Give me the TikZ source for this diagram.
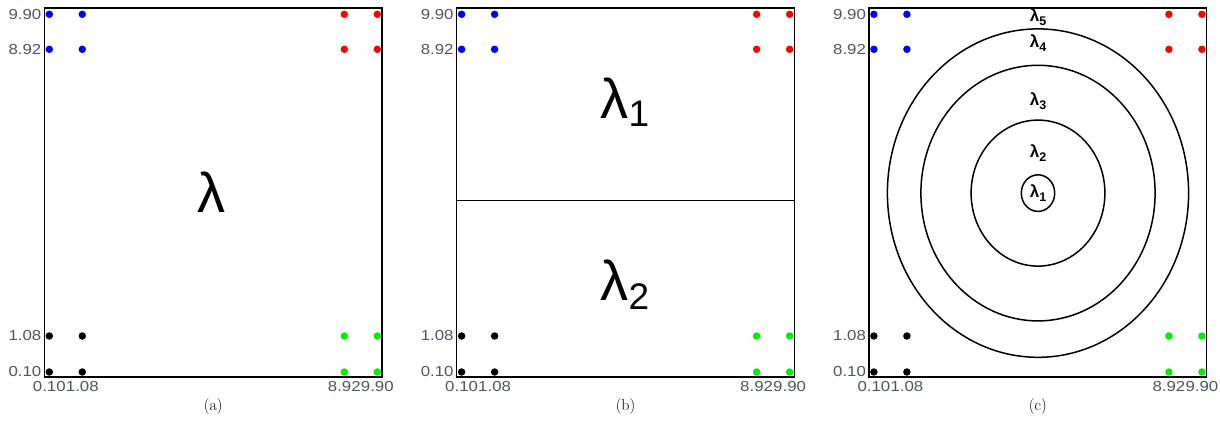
\documentclass[tikz,border=0pt]{standalone}
\usepackage{fontspec}
\newfontfamily\sansf{Liberation Sans}
\definecolor{tickgray}{RGB}{80,86,96}
\definecolor{dotblue}{RGB}{0,0,255}
\definecolor{dotred}{RGB}{255,0,0}
\definecolor{dotgreen}{RGB}{0,238,0}
\newcommand{\tk}[1]{\scalebox{1.16}[1]{#1}}
\tikzset{
  frame/.style={draw=black, line width=1.4pt},
  pt/.style={circle, fill=#1, inner sep=0pt, minimum size=7.5pt},
  ticklbl/.style={inner sep=0pt, text=tickgray, font=\sansf\fontsize{14.5}{14.5}\selectfont},
  biglam/.style={inner sep=0pt, anchor=base west, font=\sansf\fontsize{56}{56}\selectfont},
  smalllam/.style={inner sep=0pt, font=\sansf\bfseries\fontsize{17}{17}\selectfont},
  caption/.style={inner sep=0pt, font=\fontsize{16}{18}\selectfont},
  curve/.style={draw=black, line width=1.5pt}
}
\newcommand{\bsub}[1]{\raisebox{-9pt}{\fontsize{37}{37}\selectfont #1}}
\newcommand{\ssub}[1]{\raisebox{-3.5pt}{\fontsize{12.5}{12.5}\selectfont #1}}
\begin{document}
\begin{tikzpicture}[x=1pt, y=-1pt]
\useasboundingbox (0,0) rectangle (1220,441);
\foreach \i/\cap in {0/a,1/b,2/c}{
  \begin{scope}[xshift=412.3*\i]
    \draw[frame] (44.3,8) rectangle (382,377);
    \node[pt=dotblue] (b1\i) at (49.3,14.3) {};
    \node[pt=dotblue] (b2\i) at (82.3,14.3) {};
    \node[pt=dotblue] (b3\i) at (49.3,49.3) {};
    \node[pt=dotblue] (b4\i) at (82.3,49.3) {};
    \node[pt=dotred] (r1\i) at (344.3,14.3) {};
    \node[pt=dotred] (r2\i) at (377.3,14.3) {};
    \node[pt=dotred] (r3\i) at (344.3,49.3) {};
    \node[pt=dotred] (r4\i) at (377.3,49.3) {};
    \node[pt=black] (k1\i) at (49.3,336) {};
    \node[pt=black] (k2\i) at (82.3,336) {};
    \node[pt=black] (k3\i) at (49.3,372) {};
    \node[pt=black] (k4\i) at (82.3,372) {};
    \node[pt=dotgreen] (g1\i) at (344.3,336) {};
    \node[pt=dotgreen] (g2\i) at (377.3,336) {};
    \node[pt=dotgreen] (g3\i) at (344.3,372) {};
    \node[pt=dotgreen] (g4\i) at (377.3,372) {};
    \node[ticklbl, anchor=east] (ty1\i) at (41.5,14.3) {\tk{9.90}};
    \node[ticklbl, anchor=east] (ty2\i) at (41.5,49.3) {\tk{8.92}};
    \node[ticklbl, anchor=east] (ty3\i) at (41.5,336) {\tk{1.08}};
    \node[ticklbl, anchor=east] (ty4\i) at (41.5,372) {\tk{0.10}};
    \node[ticklbl, anchor=north] (tx1\i) at (49.3,381.5) {\tk{0.10}};
    \node[ticklbl, anchor=north] (tx2\i) at (82.3,381.5) {\tk{1.08}};
    \node[ticklbl, anchor=north] (tx3\i) at (344.3,381.5) {\tk{8.92}};
    \node[ticklbl, anchor=north] (tx4\i) at (377.3,381.5) {\tk{9.90}};
    \node[caption] (cap\i) at (213.2,407) {(\cap)};
  \end{scope}
}
% panel (a)
\node[biglam] (lamA) at (197,212.7) {λ};
% panel (b)
\coordinate (hl) at (456.3,200.3);
\coordinate (hr) at (794.3,200.3);
\draw[line width=1.2pt] (hl) -- (hr);
\node[biglam] (lamB1) at (600.5,118) {λ\bsub{1}};
\node[biglam] (lamB2) at (600.5,300) {λ\bsub{2}};
% panel (c)
\coordinate (ctr) at (1038,193.1);
\draw[curve] (ctr) ellipse [x radius=16.7, y radius=18.3];
\draw[curve] (ctr) ellipse [x radius=66.9, y radius=73];
\draw[curve] (ctr) ellipse [x radius=117.1, y radius=127.8];
\draw[curve] (ctr) ellipse [x radius=150.6, y radius=164.2];
\node[smalllam] (l5) at (1038,17) {λ\ssub{5}};
\node[smalllam] (l4) at (1038,43) {λ\ssub{4}};
\node[smalllam] (l3) at (1038,101) {λ\ssub{3}};
\node[smalllam] (l2) at (1038,153) {λ\ssub{2}};
\node[smalllam] (l1) at (1038,193) {λ\ssub{1}};
\end{tikzpicture}
\end{document}
